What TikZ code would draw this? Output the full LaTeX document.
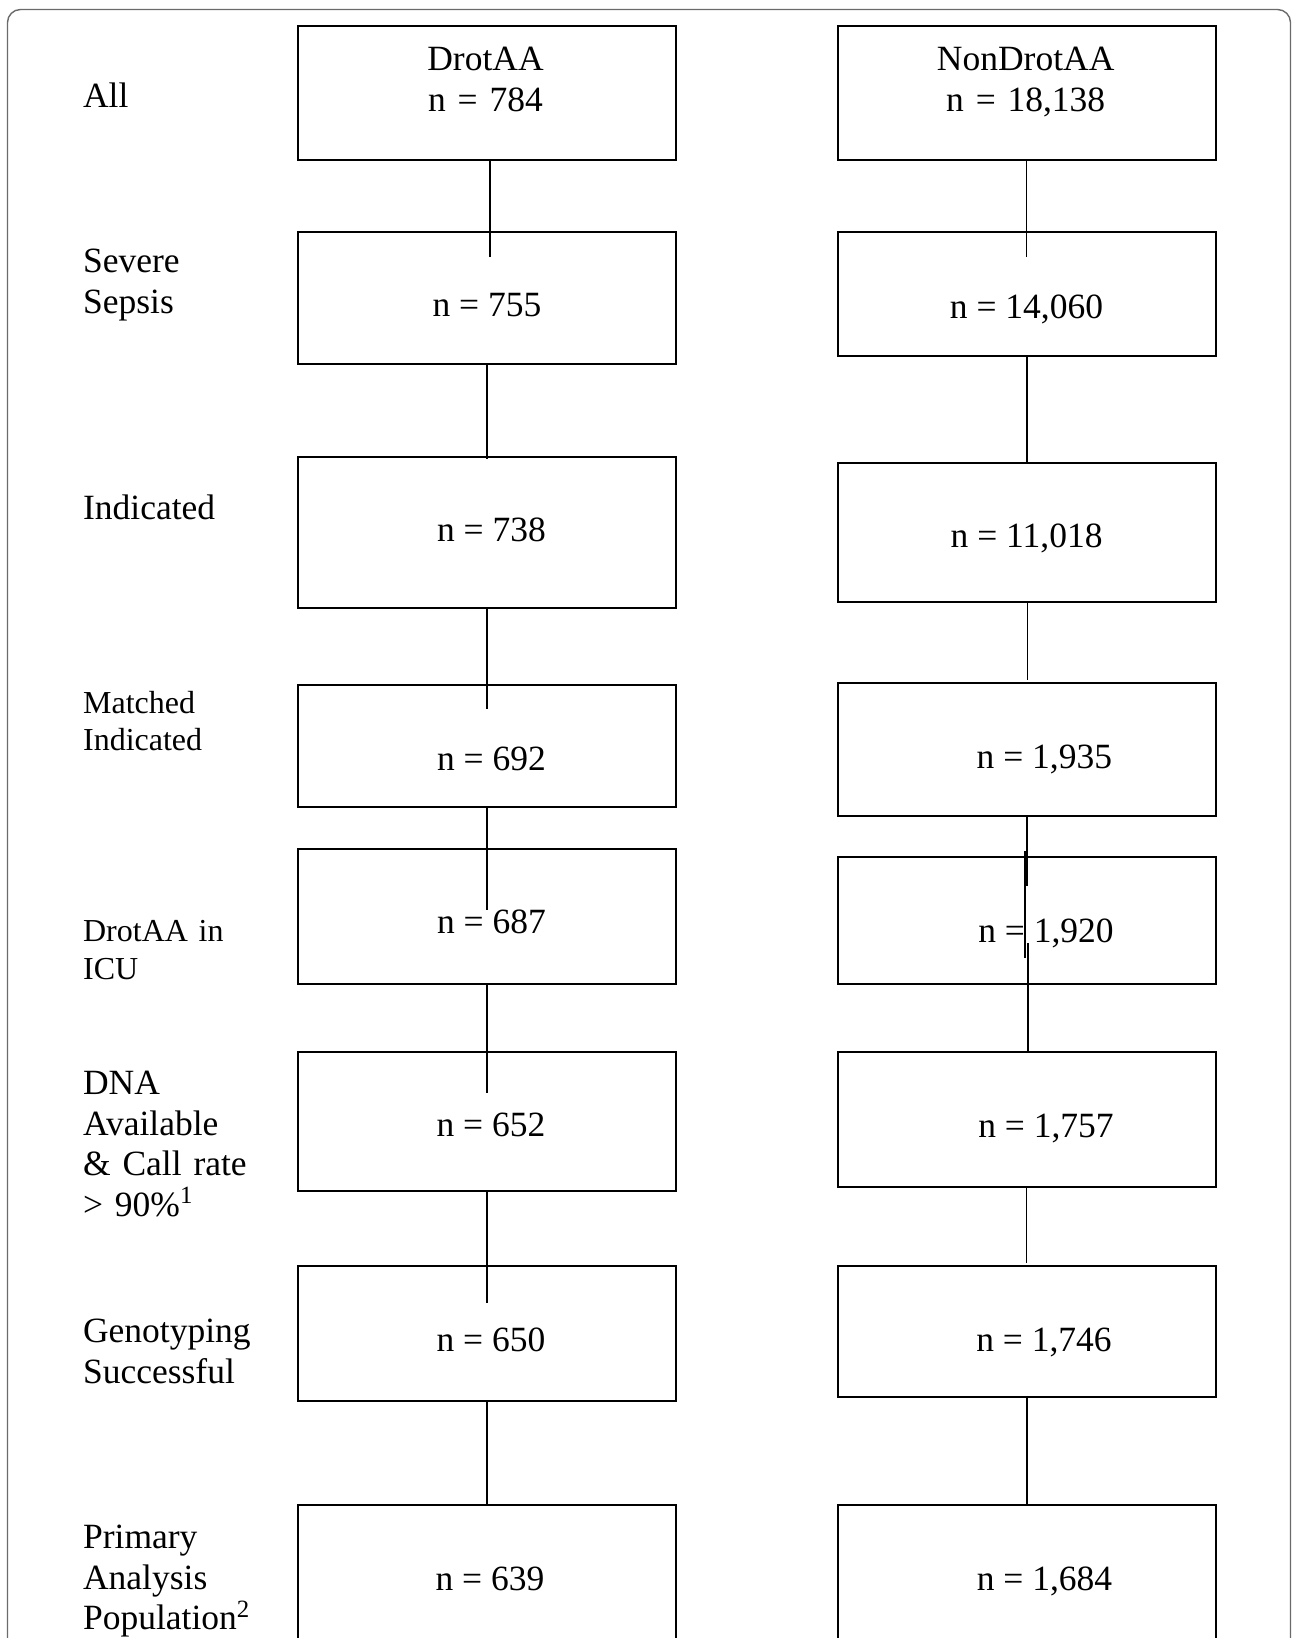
\documentclass[tikz,border=0pt]{standalone}
\usepackage{fontspec}
\setmainfont{Liberation Serif}
\usetikzlibrary{fit}
\tikzset{
  box/.style={draw, line width=1.25pt, inner sep=0pt},
  link/.style={line width=0.9pt},
  cnt/.style={inner sep=0pt, anchor=base, font=\fontsize{17.75pt}{20.25pt}\selectfont},
  lbl/.style={inner sep=0pt, anchor=base west, text width=100pt, align=left,
    font=\fontsize{17.75pt}{20.35pt}\selectfont},
  lblsmall/.style={lbl, font=\fontsize{16pt}{18.65pt}\selectfont}
}
\begin{document}
\begin{tikzpicture}[x=0.5pt,y=-0.5pt]
\useasboundingbox (0,0) rectangle (1292,1638);
\draw[line width=0.7pt, black!58, rounded corners=6.5pt] (7.5,9.5) rectangle (1290.5,1720);
% row labels
\node[lbl] (tall) at (82.7,107.3) {All};
\node[lbl] (tsev) at (82.7,272.7) {Severe\\Sepsis};
\node[lbl] (tind) at (82.7,519) {Indicated};
\node[lblsmall] (tmat) at (82.7,713.3) {Matched\\Indicated};
\node[lblsmall] (ticu) at (82.7,941.7) {DrotAA in\\ICU};
\node[lbl] (tdna) at (82.7,1094.3) {DNA\\Available\\\& Call rate\\> 90\%\textsuperscript{1}};
\node[lbl] (tgen) at (82.7,1342.7) {Genotyping\\Successful};
\node[lbl] (tpri) at (82.7,1548.3) {Primary\\Analysis\\Population\textsuperscript{2}};
% DrotAA column
\node[box, fit={(298,26) (676,160)}] (l1) {};
\node[box, fit={(298,232) (676,364)}] (l2) {};
\node[box, fit={(298,457) (676,608)}] (l3) {};
\node[box, fit={(298,685) (676,807)}] (l4) {};
\node[box, fit={(298,849) (676,984)}] (l5) {};
\node[box, fit={(298,1052) (676,1191)}] (l6) {};
\node[box, fit={(298,1266) (676,1401)}] (l7) {};
\node[box, fit={(298,1505) (676,1720)}] (l8) {};
\node[cnt, text width=150pt, align=center] (l1t) at (485.5,70.7) {DrotAA\\n = 784};
\node[cnt] (l2t) at (487,316.7) {n = 755};
\node[cnt] (l3t) at (491.5,541.7) {n = 738};
\node[cnt] (l4t) at (491.5,770) {n = 692};
\node[cnt] (l5t) at (491.5,933.3) {n = 687};
\node[cnt] (l6t) at (491,1136.7) {n = 652};
\node[cnt] (l7t) at (491,1351.7) {n = 650};
\node[cnt] (l8t) at (490,1590) {n = 639};
% NonDrotAA column
\node[box, fit={(838,26) (1216,160)}] (r1) {};
\node[box, fit={(838,232) (1216,356)}] (r2) {};
\node[box, fit={(838,463) (1216,602)}] (r3) {};
\node[box, fit={(838,683) (1216,816)}] (r4) {};
\node[box, fit={(838,857) (1216,984)}] (r5) {};
\node[box, fit={(838,1052) (1216,1187)}] (r6) {};
\node[box, fit={(838,1266) (1216,1397)}] (r7) {};
\node[box, fit={(838,1505) (1216,1720)}] (r8) {};
\node[cnt, text width=150pt, align=center] (r1t) at (1025.7,70.7) {NonDrotAA\\n = 18,138};
\node[cnt] (r2t) at (1026.5,318.3) {n = 14,060};
\node[cnt] (r3t) at (1026.6,547.7) {n = 11,018};
\node[cnt] (r4t) at (1044.4,768.3) {n = 1,935};
\node[cnt] (r5t) at (1046,942.3) {n = 1,920};
\node[cnt] (r6t) at (1046,1137.3) {n = 1,757};
\node[cnt] (r7t) at (1044,1351.7) {n = 1,746};
\node[cnt] (r8t) at (1044.5,1590.7) {n = 1,684};
% connectors
\coordinate (la) at (490,257);
\coordinate (lb) at (487,459);
\coordinate (lc) at (487,709);
\coordinate (ld) at (487,910);
\coordinate (le) at (487,1093);
\coordinate (lf) at (487,1303);
\draw[link] (la |- l1.south) -- (la);
\draw[link] (l2.south) -- (lb);
\draw[link] (l3.south) -- (lc);
\draw[link] (l4.south) -- (ld);
\draw[link] (l5.south) -- (le);
\draw[link] (l6.south) -- (lf);
\draw[link] (l7.south) -- (l8.north);
\coordinate (ra) at (1026.5,257);
\coordinate (rb) at (1027.5,680);
\coordinate (rc) at (1026.7,886);
\coordinate (rd1) at (1025.3,851);
\coordinate (rd2) at (1025.3,958);
\coordinate (re) at (1027.7,943);
\coordinate (rf) at (1026.5,1263);
\draw[link] (ra |- r1.south) -- (ra);
\draw[link] (r2.south) -- (r3.north);
\draw[link] (rb |- r3.south) -- (rb);
\draw[link] (rc |- r4.south) -- (rc);
\draw[link] (rd1) -- (rd2);
\draw[link] (re) -- (re |- r6.north);
\draw[link] (rf |- r6.south) -- (rf);
\draw[link] (r7.south) -- (r8.north);
\end{tikzpicture}
\end{document}
